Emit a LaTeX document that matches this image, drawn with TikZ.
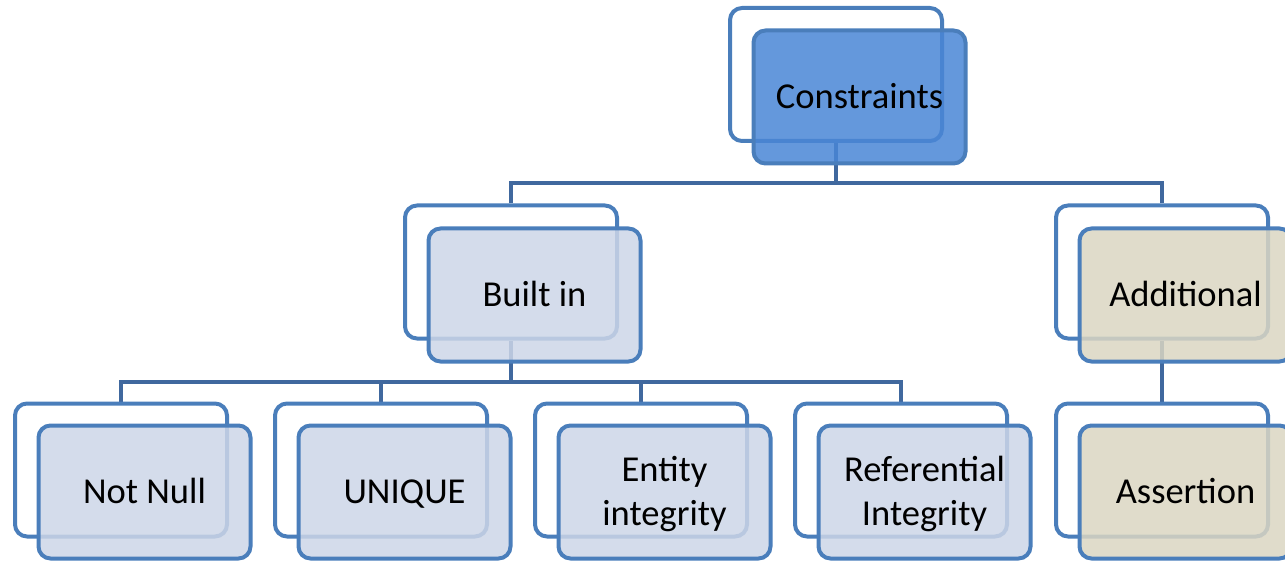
\documentclass[tikz,border=0pt]{standalone}
\usepackage{fontspec}
\setmainfont{Carlito}
\usetikzlibrary{positioning,backgrounds}
\definecolor{boxblue}{RGB}{74,126,187}
\definecolor{linkblue}{RGB}{64,104,158}
\definecolor{topfill}{RGB}{73,134,214}
\definecolor{midfill}{RGB}{205,214,231}
\definecolor{tanfill}{RGB}{219,214,194}
\newcommand{\boxstrut}{\rule[-10pt]{0pt}{43pt}}
\tikzset{
	backbox/.style={draw=boxblue,line width=4pt,rounded corners=12pt,minimum width=212pt,minimum height=133pt,inner sep=0pt},
	frontbox/.style={backbox,fill opacity=0.85,text opacity=1,align=center,font=\fontsize{36.5}{42}\selectfont},
	link/.style={draw=linkblue,line width=4pt}
}
\begin{document}
\begin{tikzpicture}[x=1pt,y=-1pt]
                    \useasboundingbox (0,0) rectangle (1285,561);
                    
                    % Drawing back boxes
                    \node [backbox] (cons-b) at (836,74.5) {};%
                    \node [backbox] (built-b) at (511,272) {};%
                    \node [backbox] (addl-b) at (1162,272) {};%
                    \node [backbox] (nn-b) at (121,470) {};%
                    \node [backbox] (uniq-b) at (381,470) {};%
                    \node [backbox] (ent-b) at (641,470) {};%
                    \node [backbox] (ref-b) at (901,470) {};%
                    \node [backbox] (asrt-b) at (1162,470) {};%
                    
                    % Drawing front boxes
                    \node [frontbox,fill=topfill] (cons) at ([shift={(23.5,22.5)}]cons-b.center) {Constraints\boxstrut};%
                    \node [frontbox,fill=midfill] (built) at ([shift={(23.5,23)}]built-b.center) {Built in\boxstrut};%
                    \node [frontbox,fill=tanfill] (addl) at ([shift={(23.5,23)}]addl-b.center) {Additional\boxstrut};%
                    \node [frontbox,fill=midfill] (nn) at ([shift={(23.5,22)}]nn-b.center) {Not Null\boxstrut};%
                    \node [frontbox,fill=midfill] (uniq) at ([shift={(23.5,22)}]uniq-b.center) {UNIQUE\boxstrut};%
                    \node [frontbox,fill=midfill] (ent) at ([shift={(23.5,22)}]ent-b.center) {Entity\boxstrut\\integrity\boxstrut};%
                    \node [frontbox,fill=midfill] (ref) at ([shift={(23.5,22)}]ref-b.center) {Referential\boxstrut\\Integrity\boxstrut};%
                    \node [frontbox,fill=tanfill] (asrt) at ([shift={(23.5,22)}]asrt-b.center) {Assertion\boxstrut};%
                    
                    \begin{scope}[on background layer]
                    % Drawing links from constraints
                    \draw [link] (built-b.north) -- ++(0,-20) -| (cons-b.south);%
                    \draw [link] (addl-b.north) -- ++(0,-20) -| (cons-b.south);%
                    
                    % Drawing links from built in
                    \foreach \leaf in {nn-b,uniq-b,ent-b,ref-b}
                        \draw [link] (\leaf.north) -- ++(0,-20) -| (built-b.south);%
                    
                    % Drawing link from additional
                    \draw [link] (addl-b.south) -- (asrt-b.north);%
                    \end{scope}
                    \end{tikzpicture}
\end{document}
